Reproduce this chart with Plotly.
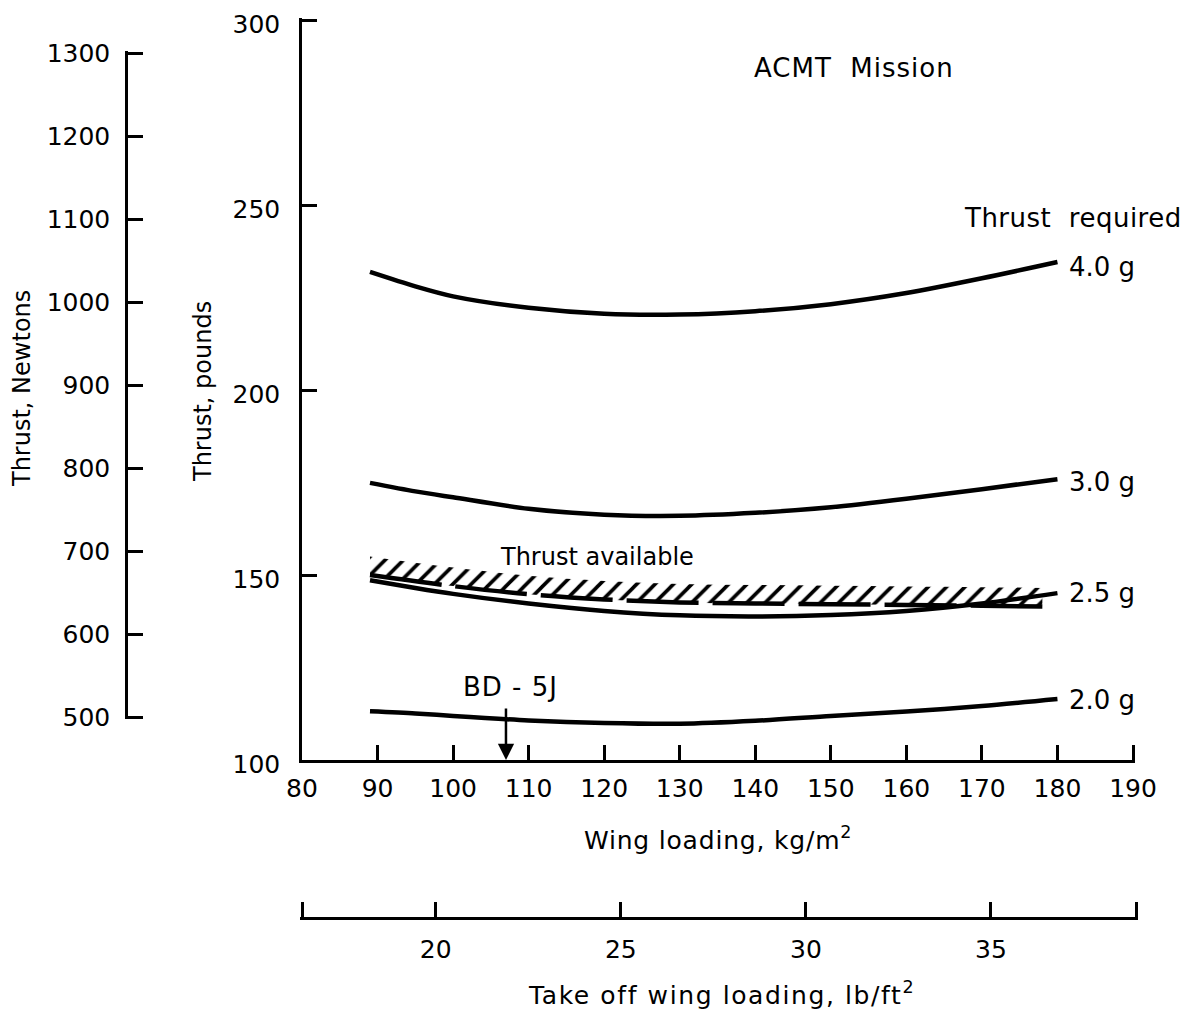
import plotly.graph_objects as go

# ---------------- data ----------------
WING_LOADING = [89, 95, 100, 110, 120, 130, 140, 150, 160, 170, 180]          # kg/m^2
THRUST_4G = [231.9, 228.0, 225.3, 222.2, 220.6, 220.4, 221.3, 223.2, 226.2, 230.2, 234.6]  # lb
THRUST_3G = [174.9, 172.6, 171.0, 167.9, 166.3, 166.0, 166.8, 168.3, 170.6, 173.2, 175.9]
THRUST_25G = [148.6, 146.5, 144.9, 142.3, 140.3, 139.1, 138.8, 139.2, 140.3, 142.3, 145.1]
THRUST_2G = [113.2, 112.6, 111.9, 110.7, 110.0, 109.8, 110.6, 111.9, 113.1, 114.6, 116.5]

WL_AVAIL = [89, 100, 110, 120, 130, 140, 150, 160, 170, 178]
THRUST_AVAIL = [150.0, 147.0, 144.8, 143.4, 142.6, 142.3, 142.1, 141.9, 141.7, 141.5]

BD5J_WL = 107.0       # kg/m^2
BD5J_TOP = 114.3      # lb (arrow tail)

CURVE_LABELS = ["4.0 g", "3.0 g", "2.5 g", "2.0 g"]
CURVE_LABEL_Y = [233.2, 175.1, 145.1, 116.2]

X_KG_TICKS = [80, 90, 100, 110, 120, 130, 140, 150, 160, 170, 180, 190]
Y_LB_TICKS = [100, 150, 200, 250, 300]
Y_N_TICKS = [500, 600, 700, 800, 900, 1000, 1100, 1200, 1300]
X_LBFT_TICKS = [20, 25, 30, 35]
KG_M2_PER_LB_FT2 = 4.882

# ---------------- styling / layout geometry (screen pixels) ----------------
FONT = "DejaVu Sans"
W, H = 1190, 1015
OFF = 8              # page offset of the figure inside the browser window
HATCH_DEPTH = 5.0    # lb, visual depth of the hatched band
PAD = 2.0            # px of axis beyond end ticks (keeps inside end ticks visible)


def fx(p):
    return (p - OFF) / W


def fy(p):
    return 1 - (p - OFF) / H


def x_axis_geom(v0, v1, p0, p1, pad_lo, pad_hi):
    k = (p1 - p0) / (v1 - v0)
    rng = [v0 - pad_lo / k, v1 + pad_hi / k]
    dom = [fx(p0 - pad_lo), fx(p1 + pad_hi)]
    return rng, dom


def y_axis_geom(v0, v1, p0, p1, pad_lo, pad_hi):
    # p0: pixel (from top) of v0 (bottom), p1: pixel of v1 (top)
    k = (p0 - p1) / (v1 - v0)
    rng = [v0 - pad_lo / k, v1 + pad_hi / k]
    dom = [fy(p0 + pad_lo), fy(p1 - pad_hi)]
    return rng, dom


def spaced(text, ls):
    return f'<span style="letter-spacing:{ls}px">{text}</span>'


x_rng, x_dom = x_axis_geom(X_KG_TICKS[0], X_KG_TICKS[-1], 302, 1133, 0, PAD)
y_rng, y_dom = y_axis_geom(Y_LB_TICKS[0], Y_LB_TICKS[-1], 760, 20, 0, PAD)
y2_rng, y2_dom = y_axis_geom(Y_N_TICKS[0], Y_N_TICKS[-1], 717, 53, PAD, PAD)
lb_min = X_KG_TICKS[0] / KG_M2_PER_LB_FT2
lb_max = X_KG_TICKS[-1] / KG_M2_PER_LB_FT2
x3_rng, x3_dom = x_axis_geom(lb_min, lb_max, 302, 1136, PAD, PAD)

fig = go.Figure()

line_style = dict(color="black", width=4.5, shape="spline", smoothing=0.8)
for ys in [THRUST_4G, THRUST_3G, THRUST_25G, THRUST_2G]:
    fig.add_trace(go.Scatter(x=WING_LOADING, y=ys, mode="lines", line=line_style,
                             hoverinfo="skip", showlegend=False))

# thrust available: dashed line + hatching above it
fig.add_trace(go.Scatter(x=WL_AVAIL, y=THRUST_AVAIL, mode="lines",
                         line=dict(color="black", width=4.5, dash="72px,14px", shape="spline"),
                         hoverinfo="skip", showlegend=False))
fig.add_trace(go.Scatter(x=WL_AVAIL, y=[v + HATCH_DEPTH for v in THRUST_AVAIL], mode="lines",
                         line=dict(color="rgba(0,0,0,0)", width=0, shape="spline"),
                         fill="tonexty", fillcolor="rgba(0,0,0,0)",
                         fillpattern=dict(shape="/", size=13, solidity=0.28,
                                          fgcolor="black", fgopacity=1, bgcolor="rgba(0,0,0,0)"),
                         hoverinfo="skip", showlegend=False))

# invisible anchors for the secondary scales
fig.add_trace(go.Scatter(x=[WING_LOADING[0]], y=[Y_N_TICKS[0]], xaxis="x", yaxis="y2",
                         mode="markers", marker=dict(opacity=0), hoverinfo="skip", showlegend=False))
fig.add_trace(go.Scatter(x=[X_LBFT_TICKS[0]], y=[Y_LB_TICKS[0]], xaxis="x3", yaxis="y",
                         mode="markers", marker=dict(opacity=0), hoverinfo="skip", showlegend=False))

axis_common = dict(showline=True, linecolor="black", linewidth=2.5, ticks="inside",
                   ticklen=15, tickwidth=2.5, tickcolor="black", showgrid=False,
                   zeroline=False, automargin=False, ticklabeloverflow="allow",
                   tickfont=dict(family=FONT, size=25, color="black"))

fig.update_layout(
    width=W, height=H,
    margin=dict(l=0, r=0, t=0, b=0, pad=0, autoexpand=False),
    paper_bgcolor="white", plot_bgcolor="rgba(0,0,0,0)",
    showlegend=False,
    xaxis=dict(domain=x_dom, range=x_rng, tickmode="array", tickvals=X_KG_TICKS, anchor="y",
               ticklabelstandoff=4, **axis_common),
    yaxis=dict(domain=y_dom, range=y_rng, tickmode="array", tickvals=Y_LB_TICKS, anchor="x",
               ticklabelstandoff=14, ticklabelshift=4, **axis_common),
    yaxis2=dict(domain=y2_dom, range=y2_rng, tickmode="array", tickvals=Y_N_TICKS,
                anchor="free", position=fx(126), side="left", ticklabelstandoff=10,
                **axis_common),
    xaxis3=dict(domain=x3_dom, range=x3_rng, anchor="free", position=fy(918),
                tickmode="array", tickvals=[lb_min] + X_LBFT_TICKS + [lb_max],
                ticktext=[" "] + [str(v) for v in X_LBFT_TICKS] + [" "],
                side="bottom", ticklabelstandoff=8, **axis_common),
)

ann_font = dict(family=FONT, size=26, color="black")
title_font = dict(family=FONT, size=24, color="black")
annotations = []
for label, yv in zip(CURVE_LABELS, CURVE_LABEL_Y):
    annotations.append(dict(x=181.2, y=yv, xref="x", yref="y", text=label, showarrow=False,
                            xanchor="left", yanchor="middle", font=ann_font))
annotations += [
    dict(x=fx(854), y=fy(68), xref="paper", yref="paper", text=spaced("ACMT  Mission", 1),
         showarrow=False, xanchor="center", yanchor="middle", font=ann_font),
    dict(x=fx(962), y=fy(218), xref="paper", yref="paper", text=spaced("Thrust  required", 0.5),
         showarrow=False, xanchor="left", yanchor="middle", font=ann_font),
    dict(x=fx(597), y=fy(557), xref="paper", yref="paper", text="Thrust available",
         showarrow=False, xanchor="center", yanchor="middle",
         font=dict(family=FONT, size=24, color="black")),
    dict(x=fx(510), y=fy(687), xref="paper", yref="paper", text=spaced("BD - 5J", 1),
         showarrow=False, xanchor="center", yanchor="middle", font=ann_font),
    dict(x=BD5J_WL, y=Y_LB_TICKS[0], xref="x", yref="y", ax=BD5J_WL, ay=BD5J_TOP,
         axref="x", ayref="y", text="", showarrow=True, arrowhead=2, arrowsize=1.3,
         arrowwidth=2.5, arrowcolor="black", standoff=0),
    dict(x=fx(22), y=fy(389), xref="paper", yref="paper", text="Thrust, Newtons",
         textangle=-90, showarrow=False, xanchor="center", yanchor="middle", font=title_font),
    dict(x=fx(203), y=fy(392), xref="paper", yref="paper", text="Thrust, pounds",
         textangle=-90, showarrow=False, xanchor="center", yanchor="middle", font=title_font),
    dict(x=fx(718), y=fy(838), xref="paper", yref="paper",
         text=spaced("Wing loading, kg/m<sup>2</sup>", 0.8),
         showarrow=False, xanchor="center", yanchor="middle",
         font=dict(family=FONT, size=25, color="black")),
    dict(x=fx(721), y=fy(993), xref="paper", yref="paper",
         text=spaced("Take off wing loading, lb/ft<sup>2</sup>", 1.6),
         showarrow=False, xanchor="center", yanchor="middle",
         font=dict(family=FONT, size=25, color="black")),
]
fig.update_layout(annotations=annotations)

fig.write_html("out.html")
